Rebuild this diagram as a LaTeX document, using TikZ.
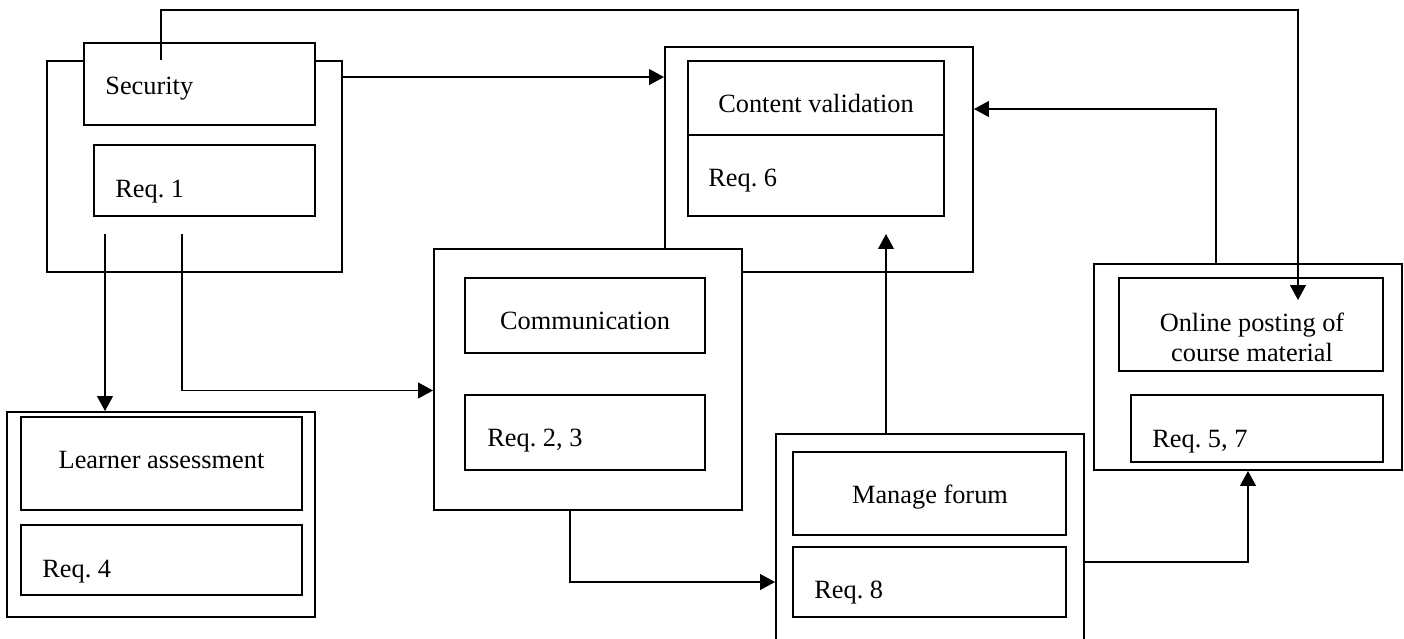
\documentclass[tikz,border=0pt]{standalone}
\usepackage{fontspec}
\setmainfont{Liberation Serif}
\usetikzlibrary{arrows.meta,fit}
\frenchspacing

\tikzset{
  box/.style={draw, line width=1.1pt, fill=white, inner sep=0pt},
  txt/.style={inner sep=0pt, font=\fontsize{15}{17}\selectfont},
  arr/.style={line width=0.85pt, -{Triangle[length=8.5pt,width=9pt]}},
}

\begin{document}
\begin{tikzpicture}[x=0.02cm,y=-0.02cm]
  \path[use as bounding box, clip] (0,0) rectangle (1404,639);

  % security
  \node[box, fit={(47,61) (342,272)}] (secOuter) {};
  \node[box, fit={(84,43) (315,125)}] (secTitle) {};
  \node[box, fit={(94,145) (315,216)}] (secReq) {};
  \node[txt, anchor=base west] (secT) at (105,94) {Security};
  \node[txt, anchor=base west] (secR) at (115,197) {Req. 1};

  % content validation
  \node[box, fit={(665,47) (973,272)}] (cvOuter) {};
  \node[box, fit={(688,61) (944,135)}] (cvTitle) {};
  \node[box, fit={(688,135) (944,216)}] (cvReq) {};
  \node[txt, anchor=base] (cvT) at (816,112) {Content validation};
  \node[txt, anchor=base west] (cvR) at (708,186) {Req. 6};

  % communication
  \node[box, fit={(434,249) (742,510)}] (comOuter) {};
  \node[box, fit={(465,278) (705,353)}] (comTitle) {};
  \node[box, fit={(465,395) (705,470)}] (comReq) {};
  \node[txt, anchor=base] (comT) at (585,329) {Communication};
  \node[txt, anchor=base west] (comR) at (487,446) {Req. 2, 3};

  % learner assessment
  \node[box, fit={(7,412) (315,617)}] (laOuter) {};
  \node[box, fit={(21,417) (302,510)}] (laTitle) {};
  \node[box, fit={(21,525) (302,595)}] (laReq) {};
  \node[txt, anchor=base] (laT) at (161.5,468) {Learner assessment};
  \node[txt, anchor=base west] (laR) at (42,577) {Req. 4};

  % manage forum
  \node[box, fit={(776,434) (1084,700)}] (mfOuter) {};
  \node[box, fit={(793,452) (1066,535)}] (mfTitle) {};
  \node[box, fit={(793,547) (1066,617)}] (mfReq) {};
  \node[txt, anchor=base] (mfT) at (930,503) {Manage forum};
  \node[txt, anchor=base west] (mfR) at (814,598) {Req. 8};

  % online posting
  \node[box, fit={(1094,264) (1402,470)}] (opOuter) {};
  \node[box, fit={(1119,278) (1383,371)}] (opTitle) {};
  \node[box, fit={(1131,395) (1383,462)}] (opReq) {};
  \node[txt, align=center] (opT) at (1252,337) {Online posting of\\course material};
  \node[txt, anchor=base west] (opR) at (1152,447) {Req. 5, 7};

  % connectors
  \coordinate (secUp) at (161,10);
  \coordinate (opDrop) at (1298,300);
  \coordinate (stubA) at (105,234);
  \coordinate (stubB) at (182,234);
  \draw[arr] (secUp |- secOuter.north) -- (secUp) -| (opDrop);
  \draw[arr] ([yshift=-0.34cm]secOuter.north east) coordinate (s2) -- (s2 -| cvOuter.west);
  \draw[arr] (stubA) -- (stubA |- laOuter.north);
  \draw[arr] (stubB) |- ([yshift=-0.22cm]comOuter.west);
  \draw[arr] ([xshift=-0.36cm]comOuter.south) |- (mfOuter.west |- mfReq.west);
  \draw[arr] ([xshift=-0.88cm]mfOuter.north) -- ++(0,-199);
  \draw[arr] ([yshift=-2.58cm]mfOuter.north east) -| (opOuter.south);
  \draw[arr] ([xshift=-0.64cm]opOuter.north) |- ([yshift=1.01cm]cvOuter.east);
\end{tikzpicture}
\end{document}
